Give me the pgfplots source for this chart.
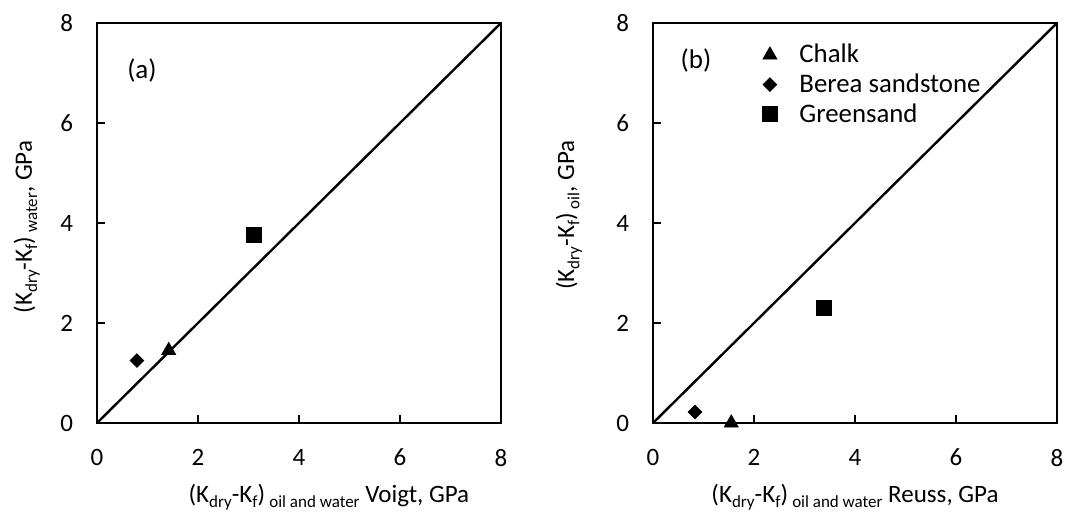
\documentclass[border=0pt]{standalone}
\usepackage{fontspec}
\setmainfont{Carlito}
\usepackage{pgfplots}
\pgfplotsset{compat=1.18}
\newcommand{\sub}[1]{\raisebox{-0.45ex}{\fontsize{8.5}{9}\selectfont #1}}
\newcommand{\Kd}{(K\sub{dry}-K\sub{f})}
\begin{document}
\begin{tikzpicture}
\path[use as bounding box] (-48.5pt,-51pt) rectangle (485.5pt,211.5pt);
\pgfplotsset{
 myax/.style={scale only axis, width=202pt, height=200pt,
  xmin=0,xmax=8,ymin=0,ymax=8,
  xtick={0,2,...,8}, ytick={0,2,...,8},
  tick align=inside, tick pos=left, major tick length=4pt,
  axis line style={line width=1pt, black},
  every tick/.style={line width=1pt, black},
  every tick label/.append style={font=\fontsize{12.5}{14}\selectfont},
  /pgf/number format/assume math mode=true,
  yticklabel style={xshift=-8.5pt},
  xticklabel style={yshift=-9.5pt},
  label style={font=\fontsize{12.5}{14}\selectfont},
  clip=false},
}
\begin{axis}[myax,
  xlabel={\Kd\,\sub{oil and water} Voigt, GPa},
  ylabel={\Kd\,\sub{water}, GPa},
  x label style={at={(axis description cs:0.574,-0.185)}, anchor=center},
  y label style={at={(axis description cs:-0.174,0.49)}, anchor=center}]
\addplot[only marks, mark=triangle*, mark size=4pt, black] coordinates {(1.42,1.45)};
\addplot[only marks, mark=square*, mark size=2.4pt, mark options={rotate=45}, black] coordinates {(0.79,1.25)};
\addplot[only marks, mark=square*, mark size=3.75pt, black] coordinates {(3.10,3.76)};
\addplot[line width=1.2pt, black] coordinates {(0,0) (8,8)};
\node[font=\fontsize{13.5}{14}\selectfont] at (axis cs:0.89,7.06) {(a)};
\end{axis}
\begin{axis}[myax, at={(278pt,0pt)}, anchor=south west,
  xlabel={\Kd\,\sub{oil and water} Reuss, GPa},
  ylabel={\Kd\,\sub{oil}, GPa},
  x label style={at={(axis description cs:0.5,-0.185)}, anchor=center},
  y label style={at={(axis description cs:-0.208,0.52)}, anchor=center},
  legend style={draw=none, fill=none, at={(axis description cs:0.255,0.968)}, anchor=north west, font=\fontsize{13.4}{15}\selectfont,
    /tikz/every odd column/.append style={column sep=9pt}},
  legend cell align=left]
\addplot[only marks, mark=triangle*, mark size=4pt, black] coordinates {(1.55,0.0)};
\addlegendentry{Chalk}
\addplot[only marks, mark=square*, mark size=2.4pt, mark options={rotate=45}, black] coordinates {(0.83,0.22)};
\addlegendentry{Berea sandstone}
\addplot[only marks, mark=square*, mark size=3.75pt, black] coordinates {(3.39,2.30)};
\addlegendentry{Greensand}
\addplot[line width=1.2pt, black, forget plot] coordinates {(0,0) (8,8)};
\node[font=\fontsize{13.5}{14}\selectfont] at (axis cs:0.85,7.26) {(b)};
\end{axis}
\end{tikzpicture}
\end{document}
